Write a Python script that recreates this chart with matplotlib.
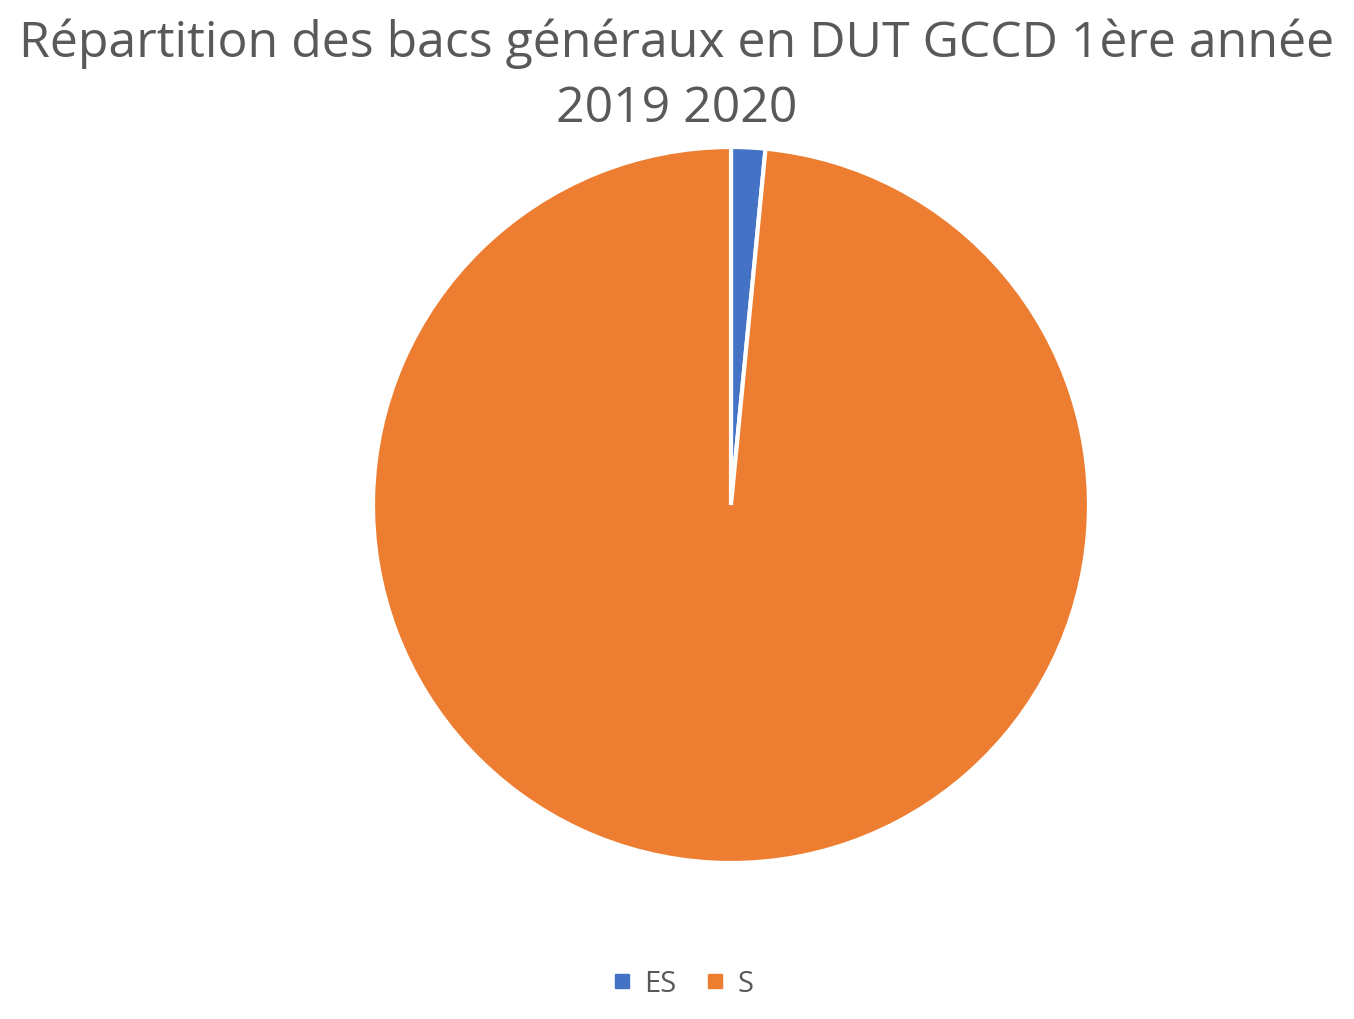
import matplotlib.pyplot as plt
from matplotlib.lines import Line2D

labels = ['ES', 'S']
values = [1, 64]
colors = ['#4472C4', '#ED7D31']

plt.rcParams['font.family'] = ['Open Sans', 'DejaVu Sans']

fig = plt.figure(figsize=(13.54, 10.2), dpi=100)
W, H = 1354, 1020
cx, cy, r = 731, 506, 358
ax = fig.add_axes([(cx - r) / W, (H - cy - r) / H, 2 * r / W, 2 * r / H])
ax.pie(values, colors=colors, startangle=90, counterclock=False, radius=1,
       wedgeprops=dict(edgecolor='white', linewidth=3))
ax.set_xlim(-1, 1)
ax.set_ylim(-1, 1)
ax.set_aspect('equal')
ax.axis('off')

fig.text(0.5, 1 - 76 / H, 'Répartition des bacs généraux en DUT GCCD 1ère année\n2019 2020',
         ha='center', va='center', fontsize=36, color='#595959', linespacing=1.4)

handles = [Line2D([0], [0], marker='s', color='none', markerfacecolor=c,
                  markeredgecolor=c, markersize=10) for c in colors]
fig.legend(handles, labels, loc='center', bbox_to_anchor=(0.503, 1 - 985 / H),
           ncol=2, frameon=False, fontsize=21, labelcolor='#595959',
           handlelength=0.9, handletextpad=0.3, columnspacing=0.9)

fig.savefig('out.png', dpi=100, facecolor='white')
